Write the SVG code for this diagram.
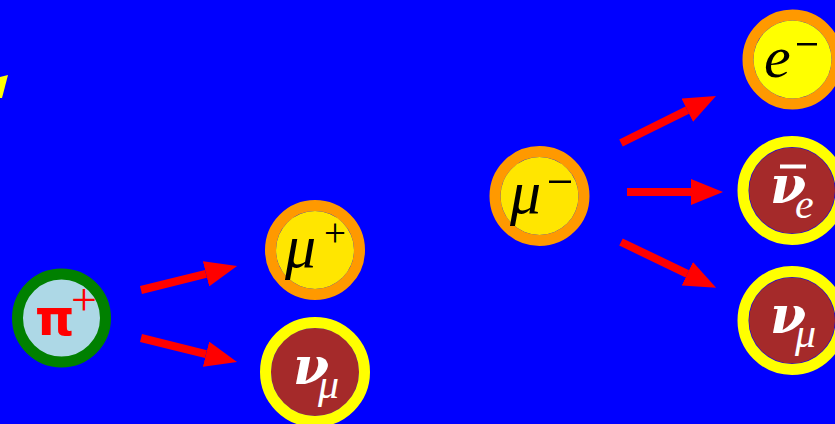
<svg xmlns="http://www.w3.org/2000/svg" width="835" height="424" viewBox="0 0 835 424">
<style>
.ring-lep{fill:none;stroke:#ff9900;stroke-width:11}
.ring-nu{fill:none;stroke:#ffff00;stroke-width:11}
.core-mu{fill:#ffe600}
.core-e{fill:#ffff00}
.core-nu{fill:#a52a2a}
.sym{font-family:"Liberation Serif","DejaVu Serif",serif;font-style:italic;fill:#000}
.nu{font-family:"DejaVu Serif","Liberation Serif",serif;font-style:italic;font-weight:bold;fill:#fff}
.sub{font-family:"Liberation Serif","DejaVu Serif",serif;font-style:italic;font-weight:normal;font-size:42px}
.up{font-family:"Liberation Serif",serif;font-style:normal}
.arrow{stroke:#ff0000;stroke-width:8;fill:none;marker-end:url(#head)}
</style>
<defs>
<marker id="head" markerUnits="userSpaceOnUse" markerWidth="32" markerHeight="26" refX="0" refY="13" orient="auto" viewBox="0 0 32 26">
<path d="M0,0 L32,13 L0,26 z" fill="#ff0000"/>
</marker>
</defs>
<rect width="835" height="424" fill="#0000ff"/>
<polygon points="0,77 8,75 2,98 0,98" fill="#ffff00"/>

<g id="pion">
<circle cx="61.5" cy="318" r="44" fill="#add8e6" stroke="#008000" stroke-width="11"/>
<text x="35" y="335" font-family="'DejaVu Sans','Liberation Sans',sans-serif" font-weight="bold" font-size="50" fill="#ff0000">π<tspan x="71" y="315" class="up" font-weight="normal" font-size="46">+</tspan></text>
</g>

<g id="muplus">
<circle cx="315" cy="250" r="44.5" class="ring-lep"/>
<circle cx="315" cy="250" r="39" class="core-mu"/>
<text x="285" y="267" class="sym" font-size="62">μ<tspan x="324" y="246" class="up" font-size="39">+</tspan></text>
</g>

<g id="numu1">
<circle cx="315" cy="372" r="44" class="core-nu"/>
<circle cx="315" cy="372" r="49.5" class="ring-nu"/>
<text x="293" y="384" class="nu" font-size="52">ν<tspan x="318" y="398" class="sub">μ</tspan></text>
</g>

<g id="muminus">
<circle cx="539.5" cy="196" r="44.5" class="ring-lep"/>
<circle cx="539.5" cy="196" r="39" class="core-mu"/>
<text x="510" y="213" class="sym" font-size="62">μ</text>
<rect x="549" y="180.5" width="22" height="2.5" fill="#000"/>
</g>

<g id="electron">
<circle cx="792.5" cy="59.5" r="44.5" class="ring-lep"/>
<circle cx="792.5" cy="59.5" r="39" class="core-e"/>
<text x="764" y="77" class="sym" font-size="60">e</text>
<rect x="797" y="43" width="20" height="2.5" fill="#000"/>
</g>

<g id="nuebar">
<circle cx="792" cy="190.5" r="43" class="core-nu"/>
<circle cx="792" cy="190.5" r="49" class="ring-nu"/>
<rect x="780" y="164.5" width="26" height="4" fill="#fff"/>
<text x="770" y="203" class="nu" font-size="52">ν<tspan x="795" y="218" class="sub">e</tspan></text>
</g>

<g id="numu2">
<circle cx="792" cy="320.5" r="43" class="core-nu"/>
<circle cx="792" cy="320.5" r="49" class="ring-nu"/>
<text x="770" y="333" class="nu" font-size="52">ν<tspan x="795" y="347" class="sub">μ</tspan></text>
</g>

<g id="connectors">
<path class="arrow" d="M141,290 L206,273.8"/>
<path class="arrow" d="M141,338 L206,354.2"/>
<path class="arrow" d="M621,143 L687.3,110.2"/>
<path class="arrow" d="M627,192 L691,192"/>
<path class="arrow" d="M621,242 L687.3,273.8"/>
</g>
</svg>
